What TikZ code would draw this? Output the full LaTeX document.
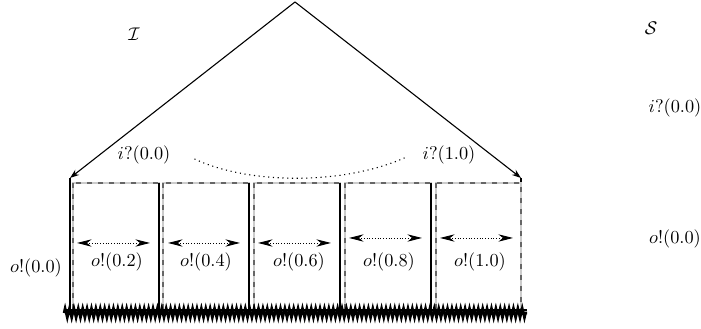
\documentclass[tikz,border=0pt]{standalone}
\usepackage{amsmath,amssymb}
\usetikzlibrary{positioning, arrows.meta, calc}
\usetikzlibrary{decorations.pathmorphing}

\begin{document}
\begin{tikzpicture}[
    x=0.546pt, y=-0.546pt,
    edge/.style={line width=0.6pt, -{Stealth[length=5pt, width=3.5pt]}},
    wall/.style={line width=0.7pt},
    cellbox/.style={draw=black!60, dashed, line width=0.8pt, preaction={draw=black!20, solid, line width=0.8pt}},
    hop/.style={densely dotted, line width=0.5pt, {Stealth[length=8pt, width=4pt]}-{Stealth[length=8pt, width=4pt]}},
    ground/.style={line width=1.4pt, decorate, decoration={zigzag, segment length=2.4pt, amplitude=2.6pt}},
    lbl/.style={inner sep=1pt}
]
    \useasboundingbox (0,0) rectangle (701,329);

    % Roof
    \coordinate (apex) at (295,2);
    \coordinate (lc) at (70,178);
    \coordinate (rc) at (521,178);
    \draw[edge] (apex) -- (lc);
    \draw[edge] (apex) -- (rc);

    % Outer walls
    \coordinate (lb) at (70,312);
    \coordinate (rb) at (521,312);
    \draw[wall] (lc) -- (lb);
    \draw[wall] (rc) -- (rb);

    % Cells
    \draw[cellbox] (73,183) rectangle (159,310);
    \draw[cellbox] (163,183) rectangle (249,310);
    \draw[cellbox] (254,183) rectangle (340,310);
    \draw[cellbox] (345,183) rectangle (431,310);
    \draw[cellbox] (436,183) rectangle (521,310);

    % Inner walls
    \coordinate (w1t) at (159,183); \coordinate (w1b) at (159,312);
    \coordinate (w2t) at (249,183); \coordinate (w2b) at (249,312);
    \coordinate (w3t) at (340,183); \coordinate (w3b) at (340,312);
    \coordinate (w4t) at (431,183); \coordinate (w4b) at (431,312);
    \draw[wall] (w1t) -- (w1b);
    \draw[wall] (w2t) -- (w2b);
    \draw[wall] (w3t) -- (w3b);
    \draw[wall] (w4t) -- (w4b);

    % Ground
    \coordinate (gl) at (64,310);
    \coordinate (gr) at (527,310);
    \draw[line width=1.4pt] (gl) -- (gr);
    \coordinate (gl2) at (64,313);
    \coordinate (gr2) at (527,313);
    \draw[ground] (gl2) -- (gr2);

    % Moves inside the cells
    \coordinate (m1a) at (77,243);  \coordinate (m1b) at (150,243);
    \coordinate (m2a) at (168,243); \coordinate (m2b) at (240,243);
    \coordinate (m3a) at (258,243); \coordinate (m3b) at (331,243);
    \coordinate (m4a) at (349,238); \coordinate (m4b) at (422,238);
    \coordinate (m5a) at (440,238); \coordinate (m5b) at (513,238);
    \draw[hop] (m1a) -- (m1b);
    \draw[hop] (m2a) -- (m2b);
    \draw[hop] (m3a) -- (m3b);
    \draw[hop] (m4a) -- (m4b);
    \draw[hop] (m5a) -- (m5b);

    % Labels
    \node[lbl] (iname) at (134,34) {$\mathcal{I}$};
    \node[lbl] (in0) at (144,155) {$i?(0.0)$};
    \node[lbl] (in1) at (449,155) {$i?(1.0)$};
    \node[lbl] (out0) at (36,268) {$o!(0.0)$};
    \node[lbl] (out2) at (117,262) {$o!(0.2)$};
    \node[lbl] (out4) at (206,262) {$o!(0.4)$};
    \node[lbl] (out6) at (299,262) {$o!(0.6)$};
    \node[lbl] (out8) at (389,262) {$o!(0.8)$};
    \node[lbl] (out10) at (480,262) {$o!(1.0)$};

    % Dotted link between inputs
    \draw[dotted, line width=0.6pt] ($(in0.east)+(22,4)$) .. controls (250,185) and (345,185) .. ($(in1.west)+(-14,2)$);

    % Spec side
    \node[lbl] (sname) at (651,28) {$\mathcal{S}$};
    \node[lbl] (sin0) at (675,108) {$i?(0.0)$};
    \node[lbl] (sout0) at (675,239) {$o!(0.0)$};
\end{tikzpicture}
\end{document}
